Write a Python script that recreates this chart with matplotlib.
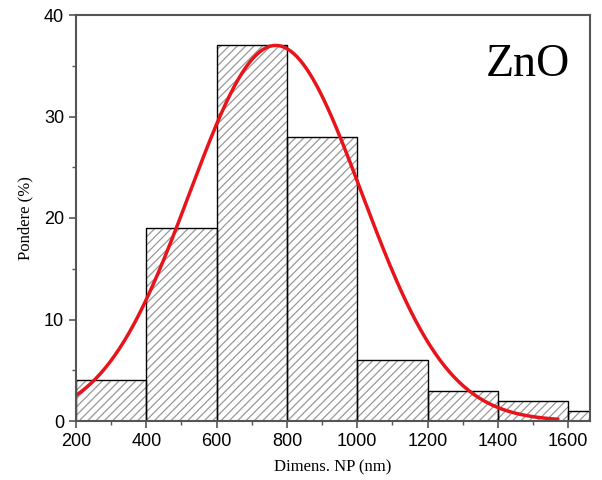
import matplotlib.pyplot as plt
import numpy as np
from matplotlib.ticker import MultipleLocator

plt.rcParams["hatch.linewidth"] = 0.9

# bin edges (nm) and counts (%)
bin_left = [200, 400, 600, 800, 1000, 1200, 1400, 1600]
bin_width = 200
pondere = [4, 19, 37, 28, 6, 3, 2, 1]

# gaussian fit parameters
fit_peak = 37.0
fit_center = 768
fit_sigma = 245
fit_x = np.linspace(200, 1570, 300)
fit_y = fit_peak * np.exp(-((fit_x - fit_center) ** 2) / (2 * fit_sigma**2))

fig = plt.figure(figsize=(6.02, 4.8), dpi=100)
ax = fig.add_axes([76 / 602, 59 / 480, 514 / 602, 406 / 480])

# hatch takes the edge colour, so draw gray hatch first, then black outlines
ax.bar(bin_left, pondere, width=bin_width, align="edge",
       color="white", edgecolor="#999999", linewidth=0, hatch="////")
ax.bar(bin_left, pondere, width=bin_width, align="edge",
       fill=False, edgecolor="black", linewidth=1.0)
ax.plot(fit_x, fit_y, color="#e8141b", linewidth=2.5)

ax.set_xlim(200, 1662)
ax.set_ylim(0, 40)
ax.xaxis.set_major_locator(MultipleLocator(200))
ax.xaxis.set_minor_locator(MultipleLocator(100))
ax.yaxis.set_major_locator(MultipleLocator(10))
ax.yaxis.set_minor_locator(MultipleLocator(5))
ax.tick_params(which="both", direction="out", top=False, right=False,
               color="#555555")
ax.tick_params(which="major", length=5, width=1.2, labelsize=13)
ax.tick_params(which="minor", length=3, width=1)
for lab in ax.get_xticklabels() + ax.get_yticklabels():
    lab.set_family("Liberation Sans")
for s in ax.spines.values():
    s.set_color("#555555")
    s.set_linewidth(1.5)

ax.set_xlabel("Dimens. NP (nm)", family="Liberation Serif", fontsize=12, labelpad=7)
ax.set_ylabel("Pondere (%)", family="Liberation Serif", fontsize=12, labelpad=8)

ax.text(0.962, 0.878, "ZnO", transform=ax.transAxes, ha="right", va="center",
        family="Liberation Serif", fontsize=33)

fig.savefig("out.png", dpi=100)
